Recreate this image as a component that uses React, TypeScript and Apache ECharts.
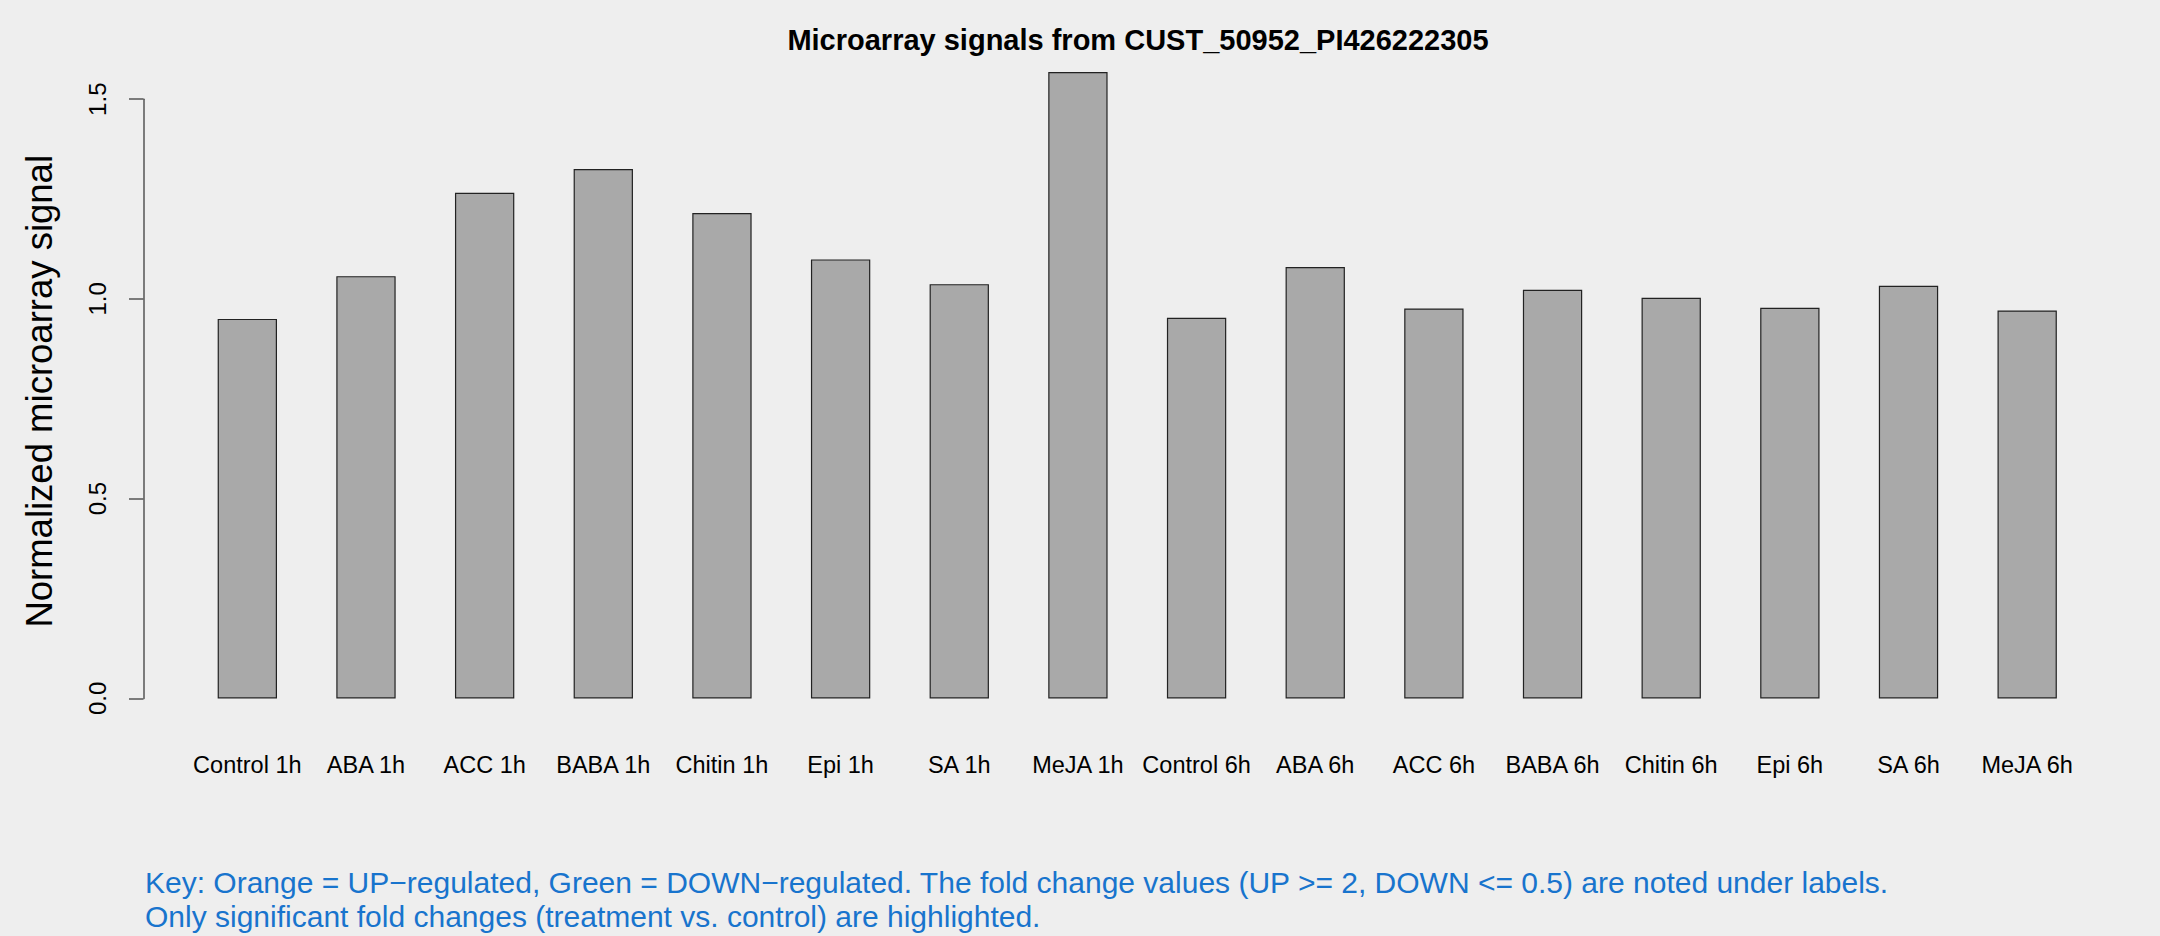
import React, { useEffect, useRef } from "react";
import * as echarts from "echarts";

const categories = [
  "Control 1h", "ABA 1h", "ACC 1h", "BABA 1h", "Chitin 1h", "Epi 1h", "SA 1h", "MeJA 1h",
  "Control 6h", "ABA 6h", "ACC 6h", "BABA 6h", "Chitin 6h", "Epi 6h", "SA 6h", "MeJA 6h",
];
const signalValues = [
  0.950, 1.057, 1.266, 1.325, 1.215, 1.099, 1.037, 1.568,
  0.953, 1.080, 0.976, 1.023, 1.003, 0.978, 1.033, 0.971,
];
const yTicks = { min: 0, max: 1.5, interval: 0.5 };
const titleText = "Microarray signals from CUST_50952_PI426222305";
const yAxisTitle = "Normalized microarray signal";
const keyLines = [
  "Key: Orange = UP\u2212regulated, Green = DOWN\u2212regulated. The fold change values (UP >= 2, DOWN <= 0.5) are noted under labels.",
  "Only significant fold changes (treatment vs. control) are highlighted.",
];

const FONT = "'Liberation Sans', Arial, Helvetica, sans-serif";

export default function App() {
  const ref = useRef<HTMLDivElement>(null);
  useEffect(() => {
    if (!ref.current) return;
    const chart = echarts.init(ref.current, undefined, { renderer: "svg" });
    chart.setOption({
      animation: false,
      backgroundColor: "#EEEEEE",
      textStyle: { fontFamily: FONT },
      title: [
        {
          text: titleText,
          left: 1133,
          textAlign: "center",
          top: 20,
          textStyle: { fontFamily: FONT, fontSize: 29, fontWeight: "bold", color: "#000" },
        },
        {
          text: keyLines.join("\n"),
          left: 145,
          top: 865,
          padding: 0,
          textStyle: { fontFamily: FONT, fontSize: 30, fontWeight: "normal", color: "#1874CD", lineHeight: 34 },
        },
      ],
      grid: { left: 188, right: 73.5, top: 99.2, bottom: 237.6, containLabel: false },
      xAxis: {
        type: "category",
        data: categories,
        axisLine: { show: false },
        axisTick: { show: false },
        axisLabel: { interval: 0, fontSize: 23.5, color: "#000", margin: 55, fontFamily: FONT },
      },
      yAxis: {
        type: "value",
        min: yTicks.min,
        max: yTicks.max,
        interval: yTicks.interval,
        offset: 44.5,
        splitLine: { show: false },
        axisLine: { show: true, lineStyle: { color: "#555", width: 1.5 } },
        axisTick: { show: true, length: 14.5, lineStyle: { color: "#555", width: 1.5 } },
        axisLabel: {
          rotate: 90,
          fontSize: 24,
          color: "#000",
          margin: 34,
          fontFamily: FONT,
          formatter: (v: number) => v.toFixed(1),
        },
        name: yAxisTitle,
        nameLocation: "middle",
        nameRotate: 90,
        nameGap: 86,
        nameTextStyle: { fontSize: 36.5, color: "#000", fontFamily: FONT, padding: [0, 0, 0, 15] },
      },
      series: [
        {
          type: "bar",
          data: signalValues,
          barWidth: "50%",
          clip: false,
          itemStyle: { color: "#A9A9A9", borderColor: "#222", borderWidth: 1.2 },
        },
      ],
    });
    return () => chart.dispose();
  }, []);
  return (
    <div
      ref={ref}
      style={{ position: "fixed", left: 0, top: 0, width: 2160, height: 936 }}
    />
  );
}
